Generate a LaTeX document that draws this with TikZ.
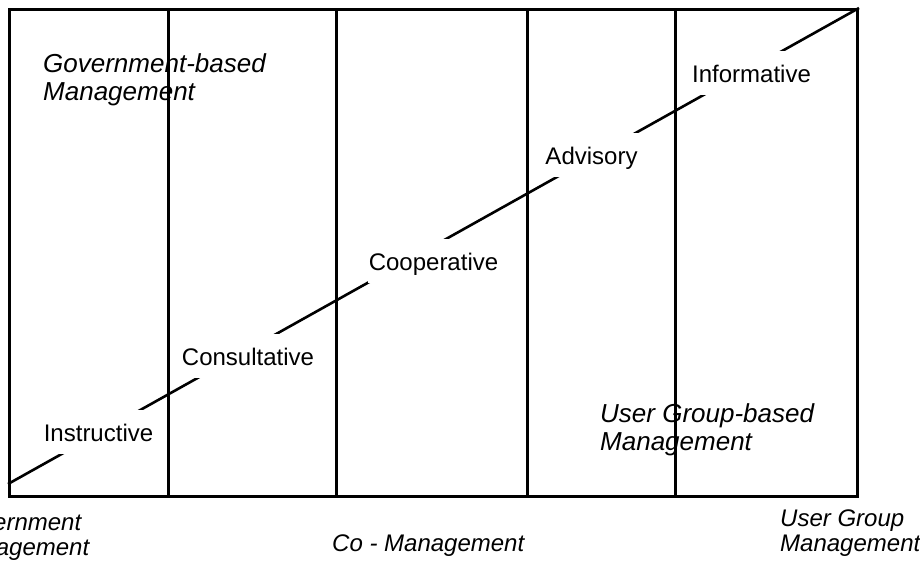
\documentclass[tikz,border=0pt]{standalone}
\usepackage{fontspec}
\setmainfont{Liberation Sans}
\begin{document}
\begin{tikzpicture}[x=1pt,y=-1pt,
  rule/.style={line width=3pt},
  level/.style={fill=white, inner xsep=1pt, inner ysep=13pt,
    text height=18pt, text depth=0pt, anchor=base,
    font=\fontsize{24}{28}\selectfont},
  zone/.style={inner sep=0pt, anchor=north west, align=left,
    font=\fontsize{26}{28}\selectfont\itshape},
  pole/.style={inner sep=0pt, anchor=north west, align=left,
    font=\fontsize{24}{25}\selectfont\itshape}]
  \useasboundingbox (0,0) rectangle (920,566);
  \clip (0,0) rectangle (920,566);

  % outer frame
  \node[draw, rule, minimum width=848pt, minimum height=487pt,
        inner sep=0pt, anchor=north west] (frame) at (8,8) {};

  % column dividers
  \foreach \x in {168,336,527,675}
    \draw[rule] (\x,8) -- (\x,495);

  % the diagonal scale, interrupted by the level labels
  \coordinate (d0) at (8,484);
  \draw[line width=2.6pt] (d0) -- (frame.north east);

  \node[level] (instructive)  at (98.5,441) {Instructive};
  \node[level] (consultative) at (248,365)  {Consultative};
  \node[level] (cooperative)  at (433.5,270) {Cooperative};
  \node[level] (advisory)     at (591.5,164) {Advisory};
  \node[level] (informative)  at (751.5,82) {Informative};

  % regions inside the frame
  \node[zone] (govbased)  at (43,53)   {Government-based\\Management};
  \node[zone] (userbased) at (600,403) {User Group-based\\Management};

  % poles under the frame
  \node[pole] (govpole)  at (-51,514) {Government\\Management};
  \node[pole, anchor=base west] (copole) at (332,551) {Co - Management};
  \node[pole] (userpole) at (780,510) {User Group\\Management};
\end{tikzpicture}
\end{document}
